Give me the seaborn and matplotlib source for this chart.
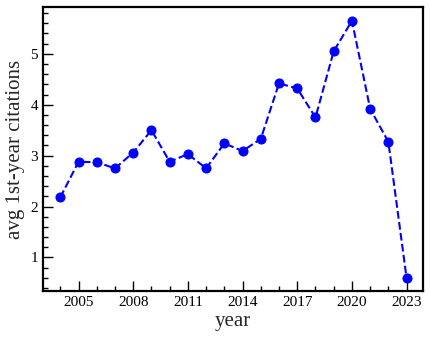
import numpy as np
import pandas as pd
import matplotlib
matplotlib.use("Agg")
import matplotlib.pyplot as plt
from matplotlib.ticker import MultipleLocator
import seaborn as sns

years = list(range(2004, 2024))
avg_citations = [2.18, 2.88, 2.87, 2.75, 3.06, 3.50, 2.88, 3.03, 2.75, 3.24,
                 3.09, 3.33, 4.42, 4.32, 3.75, 5.05, 5.65, 3.92, 3.27, 0.59]
xticks = [2005, 2008, 2011, 2014, 2017, 2020, 2023]

df = pd.DataFrame({'year': years, 'avg': avg_citations})

sns.set_style('ticks')
plt.rcParams['font.family'] = ['Liberation Serif', 'DejaVu Serif']

fig, ax = plt.subplots(figsize=(4.31, 3.41), dpi=100)
sns.lineplot(data=df, x='year', y='avg', ax=ax, color='blue', linestyle='--',
             marker='o', markersize=6.5, markeredgecolor='blue', linewidth=1.5)

ax.set_xlim(2003.05, 2023.9)
ax.set_ylim(0.34, 5.92)
ax.set_xticks(xticks)
ax.xaxis.set_minor_locator(MultipleLocator(1))
ax.yaxis.set_major_locator(MultipleLocator(1))
ax.yaxis.set_minor_locator(MultipleLocator(0.2))
ax.set_yticks([1, 2, 3, 4, 5])
ax.tick_params(which='both', direction='in', top=False, right=False,
               width=1, colors='black', labelsize=11)
ax.tick_params(which='major', length=7)
ax.tick_params(which='minor', length=3.5)
for s in ax.spines.values():
    s.set_linewidth(1.6)
    s.set_color('black')
ax.set_xlabel('year', fontsize=15, labelpad=2)
ax.set_ylabel('avg 1st-year citations', fontsize=15, labelpad=4)

fig.subplots_adjust(left=43/431, right=423/431, top=1 - 7/341, bottom=1 - 291/341)
fig.savefig('out.png', dpi=100)
